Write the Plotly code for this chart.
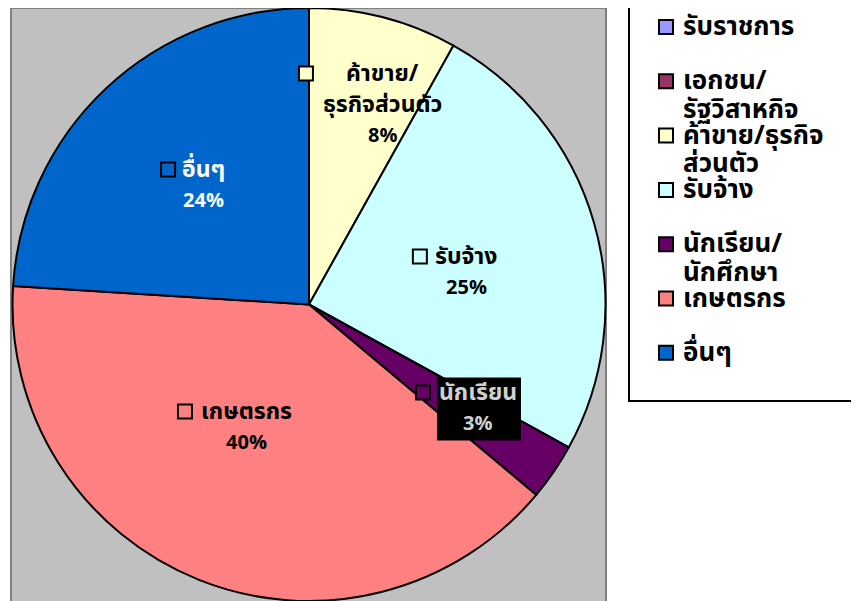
import math
import plotly.graph_objects as go

# ---- data ----
categories = ["รับราชการ", "เอกชน/รัฐวิสาหกิจ", "ค้าขาย/ธุรกิจส่วนตัว", "รับจ้าง",
              "นักเรียน/นักศึกษา", "เกษตรกร", "อื่นๆ"]
values = [0, 0, 8.1, 24.9, 3.1, 39.9, 24.0]
label_lines = [["รับราชการ"], ["เอกชน/", "รัฐวิสาหกิจ"], ["ค้าขาย/", "ธุรกิจส่วนตัว"], ["รับจ้าง"],
               ["นักเรียน"], ["เกษตรกร"], ["อื่นๆ"]]
legend_lines = [["รับราชการ"], ["เอกชน/", "รัฐวิสาหกิจ"], ["ค้าขาย/ธุรกิจ", "ส่วนตัว"], ["รับจ้าง"],
                ["นักเรียน/", "นักศึกษา"], ["เกษตรกร"], ["อื่นๆ"]]

# ---- style ----
colors = ["#9999FF", "#993366", "#FFFFCC", "#CCFFFF", "#660066", "#FF8080", "#0066CC"]
label_colors = ["black", "black", "black", "black", "#D0D0D0", "black", "white"]
label_bg = [None, None, None, None, "black", None, None]
label_r = [0, 0, 0.716, 0.543, 0.669, 0.466, 0.537]
label_nudge = [0, 0, 5.8, 4.7, -2.8, 4.9, 1.5]
marker_dx = [0, 0, -77, -47, -55, -62, -35]
marker_dy = [0, 0, -32, -16.5, -16, -16.5, -16]
LINE_STEP = 31
LEG_STEP = 54.3
LEG_LINE_STEP = 28.5

OFF = 8  # page body margin
W, H = 859 - OFF, 601 - OFF
CX, CY = 309 - OFF, H / 2
R = H / 2
FONT = "Tahoma, 'Noto Sans Thai', 'Noto Sans', sans-serif"


def px2paper(x, y):
    """screen pixel -> paper coords"""
    return (x - OFF) / W, 1 - (y - OFF) / H


dom_x0 = (CX - R) / W
dom_x1 = (CX + R) / W

fig = go.Figure(go.Pie(
    labels=categories, values=values, sort=False, direction="clockwise",
    rotation=0, textinfo="none", hoverinfo="label+percent",
    marker=dict(colors=colors, line=dict(color="black", width=2)),
    domain=dict(x=[dom_x0, dom_x1], y=[0, 1]), showlegend=False,
))

shapes = []
annotations = []

# gray plot-area background
gx0, gy0 = px2paper(11, 8)
gx1, gy1 = px2paper(606, 604)
shapes.append(dict(type="rect", xref="paper", yref="paper", x0=gx0, y0=gy1, x1=gx1, y1=gy0,
                   fillcolor="#C0C0C0", line=dict(color="#808080", width=2), layer="below"))

# data labels
total = sum(values)
cum = 0
for i, v in enumerate(values):
    start = cum
    cum += v
    if v <= 0:
        continue
    mid = (start + v / 2) / total * 360 + label_nudge[i]
    rr = label_r[i] * R
    lx = CX + OFF + rr * math.sin(math.radians(mid))
    ly = CY + OFF - rr * math.cos(math.radians(mid))
    ax, ay = px2paper(lx, ly)
    pct = round(v / total * 100)
    lines = label_lines[i] + [f"{pct}%"]
    n = len(lines)
    if label_bg[i]:
        shapes.append(dict(type="rect", xref="paper", yref="paper", xsizemode="pixel", ysizemode="pixel",
                           xanchor=ax, yanchor=ay, x0=-41, x1=43, y0=-32, y1=31,
                           fillcolor=label_bg[i], line=dict(width=0)))
    for k, line in enumerate(lines):
        off = (k - (n - 1) / 2) * LINE_STEP
        is_pct = k == n - 1
        annotations.append(dict(xref="paper", yref="paper", x=ax, y=ay, yshift=-off,
                                xanchor="center", yanchor="middle", text=f"<b>{line}</b>",
                                showarrow=False,
                                font=dict(family=FONT, size=20 if is_pct else 23,
                                          color=label_colors[i])))
    shapes.append(dict(type="rect", xref="paper", yref="paper", xsizemode="pixel", ysizemode="pixel",
                       xanchor=ax, yanchor=ay,
                       x0=marker_dx[i] - 7, x1=marker_dx[i] + 7,
                       y0=-marker_dy[i] - 7, y1=-marker_dy[i] + 7,
                       fillcolor=colors[i], line=dict(color="black", width=2)))

# legend box
lx0, ly0 = px2paper(629, 7)
lx1, ly1 = px2paper(864, 401)
shapes.append(dict(type="rect", xref="paper", yref="paper", x0=lx0, y0=ly1, x1=lx1, y1=ly0,
                   fillcolor="white", line=dict(color="black", width=2)))
for i, lines in enumerate(legend_lines):
    my = 27 + i * LEG_STEP
    mxp, myp = px2paper(666, my)
    shapes.append(dict(type="rect", xref="paper", yref="paper", xsizemode="pixel", ysizemode="pixel",
                       xanchor=mxp, yanchor=myp, x0=-7, x1=7, y0=-7, y1=7,
                       fillcolor=colors[i], line=dict(color="black", width=2)))
    for k, line in enumerate(lines):
        tx, ty = px2paper(681, my + k * LEG_LINE_STEP)
        annotations.append(dict(xref="paper", yref="paper", x=tx, y=ty, xanchor="left",
                                yanchor="middle", text=f"<b>{line}</b>", showarrow=False,
                                font=dict(family=FONT, size=26, color="black")))

fig.update_layout(
    width=W, height=H, margin=dict(l=0, r=0, t=0, b=0),
    paper_bgcolor="white", shapes=shapes, annotations=annotations,
)
fig.write_html("out.html")
